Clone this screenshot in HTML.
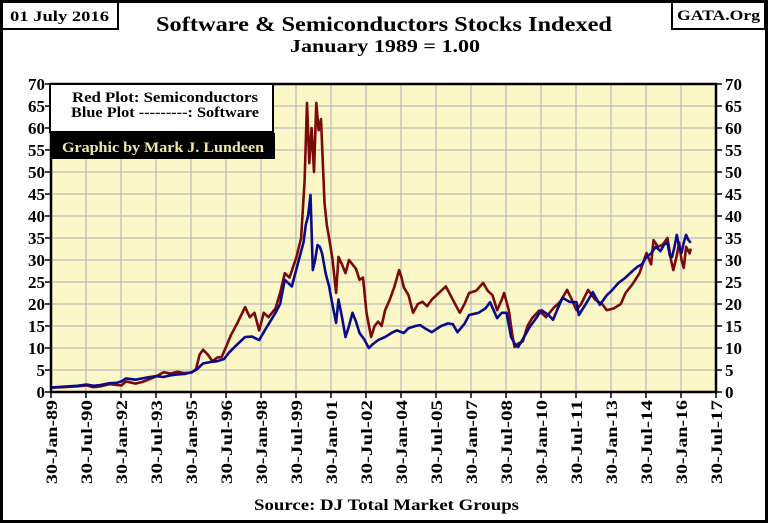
<!DOCTYPE html>
<html><head><meta charset="utf-8">
<style>
html,body{margin:0;padding:0;background:#fff;}
#wrap{position:relative;width:768px;height:523px;overflow:hidden;font-family:"Liberation Serif",serif;font-weight:bold;color:#111;}
</style></head>
<body>
<div id="wrap">
<svg id="chart" width="768" height="523" viewBox="0 0 768 523" xmlns="http://www.w3.org/2000/svg" style="font-family:'Liberation Serif',serif;font-weight:bold">
  <rect x="1.5" y="1.5" width="765" height="520" fill="#fff" stroke="#000" stroke-width="3"/>
  <rect x="2" y="2" width="116" height="27" fill="#fff" stroke="#000" stroke-width="2"/>
  <text x="10" y="21" font-size="15" textLength="99" lengthAdjust="spacingAndGlyphs">01 July 2016</text>
  <rect x="672" y="2" width="93" height="27" fill="#fff" stroke="#000" stroke-width="2"/>
  <text x="677" y="20" font-size="15" textLength="83" lengthAdjust="spacingAndGlyphs">GATA.Org</text>
  <text x="156" y="31" font-size="21" textLength="456" lengthAdjust="spacingAndGlyphs">Software &amp; Semiconductors  Stocks Indexed</text>
  <text x="290" y="52" font-size="18" textLength="190" lengthAdjust="spacingAndGlyphs">January 1989 = 1.00</text>
  <rect id="plotbg" fill="#fcf7c6"/>
  <g id="grid"></g>
  <g id="series"></g>
  <rect id="plotborder" fill="none" stroke="#000" stroke-width="2.5"/>
  <g id="axes"></g>
  <rect x="50" y="84" width="223" height="48" fill="#fff" stroke="#000" stroke-width="2"/>
  <text x="72" y="102" font-size="14.5" textLength="186" lengthAdjust="spacingAndGlyphs">Red Plot: Semiconductors</text>
  <text x="71" y="117" font-size="14.5" textLength="188" lengthAdjust="spacingAndGlyphs">Blue Plot ---------:  Software</text>
  <rect x="50" y="133" width="225" height="26" fill="#000"/>
  <text x="62" y="152" font-size="14.5" textLength="202" lengthAdjust="spacingAndGlyphs" fill="#f0e8a8">Graphic by Mark J. Lundeen</text>
  <text x="254" y="510" font-size="16" textLength="265" lengthAdjust="spacingAndGlyphs">Source: DJ  Total Market Groups</text>
</svg>
</div>
<script>
// ---- data ----
const yTicks = [0,5,10,15,20,25,30,35,40,45,50,55,60,65,70];
const xTickLabels = ["30-Jan-89","30-Jul-90","30-Jan-92","30-Jul-93","30-Jan-95","30-Jul-96","30-Jan-98","30-Jul-99","30-Jan-01","30-Jul-02","30-Jan-04","30-Jul-05","30-Jan-07","30-Jul-08","30-Jan-10","30-Jul-11","30-Jan-13","30-Jul-14","30-Jan-16","30-Jul-17"];
const xTickYears = [1989.08,1990.58,1992.08,1993.58,1995.08,1996.58,1998.08,1999.58,2001.08,2002.58,2004.08,2005.58,2007.08,2008.58,2010.08,2011.58,2013.08,2014.58,2016.08,2017.58];
const semiDates = [1989.08,1989.6,1990.2,1990.6,1990.9,1991.2,1991.6,1991.9,1992.1,1992.3,1992.7,1993.0,1993.3,1993.6,1993.9,1994.2,1994.5,1994.8,1995.1,1995.3,1995.45,1995.6,1995.8,1996.0,1996.2,1996.4,1996.6,1996.8,1997.1,1997.4,1997.6,1997.8,1998.0,1998.2,1998.4,1998.7,1998.9,1999.1,1999.3,1999.6,1999.8,1999.95,2000.05,2000.15,2000.25,2000.35,2000.45,2000.55,2000.65,2000.8,2000.9,2001.0,2001.15,2001.3,2001.4,2001.55,2001.7,2001.85,2002.0,2002.15,2002.3,2002.45,2002.6,2002.8,2002.95,2003.1,2003.25,2003.4,2003.6,2003.8,2004.0,2004.1,2004.2,2004.4,2004.6,2004.8,2005.0,2005.2,2005.4,2005.6,2005.8,2006.0,2006.2,2006.4,2006.6,2006.8,2007.0,2007.3,2007.6,2007.8,2008.0,2008.2,2008.4,2008.5,2008.7,2008.85,2008.95,2009.1,2009.3,2009.5,2009.7,2010.0,2010.3,2010.6,2010.9,2011.2,2011.4,2011.6,2011.8,2012.1,2012.4,2012.7,2012.9,2013.2,2013.5,2013.7,2014.0,2014.3,2014.6,2014.8,2014.9,2015.1,2015.3,2015.5,2015.65,2015.75,2015.9,2016.0,2016.1,2016.2,2016.3,2016.45,2016.5];
const semiValues = [1.0,1.1,1.3,1.5,1.1,1.3,1.8,1.6,1.5,2.4,1.9,2.3,2.9,3.6,4.5,4.2,4.6,4.3,4.4,5.2,8.5,9.6,8.5,7.0,7.8,8.0,10.5,13,16,19.3,17,18,14,18,17,19,22.5,27,26,30.7,35,48,65.7,52,60,50,65.7,59.5,62,43,38,35,30,22.5,30.7,29,27,30,29,28,25.5,26,18,12.5,15,16,15,18.6,21,24,27.7,26,23.8,22,18,20,20.5,19.5,21,22,23,24,22,20,18,20,22.5,23,24.8,23,22,18.6,21,22.5,18.6,13,10.2,11,11.5,15,16.8,18.5,17,19,20.5,23.2,21,18.6,20,23.2,21,20,18.6,19,20,22.5,24.5,27,31.6,29,34.5,33,33.5,35,30,27.7,31,34,30,28.2,33,31.5,32.6];
const softDates = [1989.08,1989.6,1990.2,1990.6,1990.9,1991.2,1991.6,1991.9,1992.1,1992.3,1992.7,1993.0,1993.3,1993.6,1993.9,1994.2,1994.5,1994.8,1995.1,1995.3,1995.6,1995.9,1996.2,1996.5,1996.7,1997.0,1997.4,1997.7,1998.0,1998.3,1998.7,1998.9,1999.1,1999.4,1999.7,1999.9,2000.0,2000.1,2000.2,2000.3,2000.4,2000.5,2000.6,2000.7,2000.85,2001.0,2001.1,2001.3,2001.4,2001.55,2001.7,2001.85,2002.0,2002.15,2002.3,2002.5,2002.7,2002.9,2003.1,2003.4,2003.7,2003.9,2004.2,2004.4,2004.7,2004.9,2005.1,2005.4,2005.8,2006.1,2006.3,2006.5,2006.8,2007.0,2007.4,2007.7,2007.9,2008.2,2008.4,2008.6,2008.8,2008.95,2009.1,2009.3,2009.6,2009.9,2010.1,2010.4,2010.6,2010.8,2011.0,2011.3,2011.6,2011.7,2012.0,2012.3,2012.6,2012.9,2013.1,2013.4,2013.7,2014.0,2014.2,2014.4,2014.6,2014.8,2015.0,2015.2,2015.35,2015.5,2015.6,2015.7,2015.8,2015.9,2016.0,2016.1,2016.2,2016.3,2016.4,2016.5];
const softValues = [1.0,1.2,1.4,1.7,1.4,1.6,2.0,2.1,2.4,3.1,2.8,3.1,3.4,3.6,3.4,3.8,4.0,4.1,4.5,5.0,6.5,6.8,7.0,7.5,8.9,10.5,12.5,12.6,11.8,14.5,18,20,25.5,24,30,34,38,40,44.8,27.7,30,33.4,33,31.5,27,24,21,15.7,21,17,12.5,15,18,16,13.4,12,10,11,11.8,12.5,13.5,14,13.4,14.5,15,15.2,14.5,13.6,15,15.6,15.4,13.6,15.5,17.5,18,19,20.4,16.8,18,18,12.5,11,10.2,12,14.8,17,18.6,17.5,16.4,19,21.4,20.5,20.4,17.5,20,22.7,19.8,22,23,24.8,26,27.5,28.4,29,30.7,31.5,33,32,33.5,33.9,31,30.7,33,35.7,33,31.6,34,35.7,34.5,33.9];

// ---- geometry ----
const L=51, R=716, T=84, B=392;
const X0=1989.08, X1=2017.58, YMAX=70;
const sx = yr => L + (yr - X0) / (X1 - X0) * (R - L);
const sy = v => B - v / YMAX * (B - T);
const NS="http://www.w3.org/2000/svg";
function mk(tag, attrs){const e=document.createElementNS(NS,tag);for(const k in attrs)e.setAttribute(k,attrs[k]);return e;}

const bg=document.getElementById('plotbg');
bg.setAttribute('x',L);bg.setAttribute('y',T);bg.setAttribute('width',R-L);bg.setAttribute('height',B-T);
const pb=document.getElementById('plotborder');
pb.setAttribute('x',L);pb.setAttribute('y',T);pb.setAttribute('width',R-L);pb.setAttribute('height',B-T);

const grid=document.getElementById('grid');
const axes=document.getElementById('axes');
yTicks.forEach(v=>{
  const y=sy(v);
  const g=mk('line',{x1:L,x2:R,y1:y,y2:y,stroke:'#bdbdbd','stroke-width':1.3});
  
  
  grid.appendChild(g);
  const t1=mk('line',{x1:L-6,x2:L,y1:y,y2:y,stroke:'#000','stroke-width':1.5});
  
  
  axes.appendChild(t1);
  const t2=mk('line',{x1:R,x2:R+6,y1:y,y2:y,stroke:'#000','stroke-width':1.5});
  
  
  axes.appendChild(t2);
  const lb=mk('text',{x:L-6,y:y+6,'font-size':17,'text-anchor':'end'});
  lb.textContent=v;
  
  
  axes.appendChild(lb);
  const rb=mk('text',{x:R+9,y:y+6,'font-size':17,'text-anchor':'start'});
  rb.textContent=v;
  
  
  axes.appendChild(rb);
});
xTickYears.forEach((yr,i)=>{
  const x=sx(yr);
  const g=mk('line',{x1:x,x2:x,y1:T,y2:B,stroke:'#bdbdbd','stroke-width':1.3});
  
  
  grid.appendChild(g);
  const t=mk('line',{x1:x,x2:x,y1:B,y2:B+6,stroke:'#000','stroke-width':1.5});
  
  
  axes.appendChild(t);
  const lb=mk('text',{x:0,y:0,'font-size':16,'text-anchor':'end',textLength:84,lengthAdjust:'spacingAndGlyphs',transform:`translate(${x+6},${B+8}) rotate(-90)`});
  lb.textContent=xTickLabels[i];
  
  
  axes.appendChild(lb);
});

const series=document.getElementById('series');
function line(dates,vals,color,name){
  const d=dates.map((yr,i)=>(i?'L':'M')+sx(yr).toFixed(1)+' '+sy(vals[i]).toFixed(1)).join(' ');
  const p=mk('path',{d:d,fill:'none',stroke:color,'stroke-width':2.6,'stroke-linejoin':'round'});
  
  
  series.appendChild(p);
}
line(semiDates,semiValues,'#7a0a0a','semiconductors-line');
line(softDates,softValues,'#0a0a8c','software-line');
</script>
</body></html>
